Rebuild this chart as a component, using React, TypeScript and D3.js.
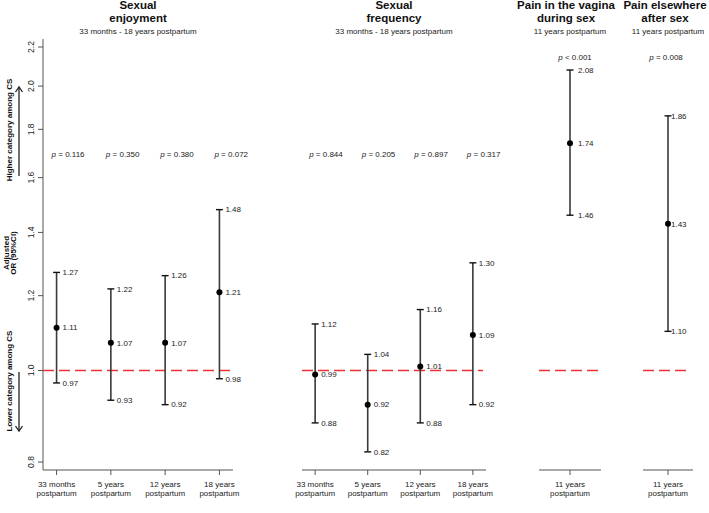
import * as d3 from "d3";
import React from "react";

const WIDTH = 709;
const HEIGHT = 513;

// x categories
const timepoints = [
  ["33 months", "postpartum"],
  ["5 years", "postpartum"],
  ["12 years", "postpartum"],
  ["18 years", "postpartum"],
];
const painTimepoint = [["11 years", "postpartum"]];

// sexual enjoyment
const enjoymentEst = [1.11, 1.07, 1.07, 1.21];
const enjoymentLow = [0.97, 0.93, 0.92, 0.98];
const enjoymentHigh = [1.27, 1.22, 1.26, 1.48];
const enjoymentP = ["= 0.116", "= 0.350", "= 0.380", "= 0.072"];

// sexual frequency
const frequencyEst = [0.99, 0.92, 1.01, 1.09];
const frequencyLow = [0.88, 0.82, 0.88, 0.92];
const frequencyHigh = [1.12, 1.04, 1.16, 1.3];
const frequencyP = ["= 0.844", "= 0.205", "= 0.897", "= 0.317"];

// pain in the vagina during sex
const vaginaEst = [1.74];
const vaginaLow = [1.46];
const vaginaHigh = [2.08];
const vaginaP = ["< 0.001"];

// pain elsewhere after sex
const elsewhereEst = [1.43];
const elsewhereLow = [1.1];
const elsewhereHigh = [1.86];
const elsewhereP = ["= 0.008"];

const yTicks = [0.8, 1.0, 1.2, 1.4, 1.6, 1.8, 2.0, 2.2];

const FONT = "'Liberation Sans', Arial, Helvetica, sans-serif";
const BAR = "#3a3a3a";
const AXIS = "#555";
const RED = "#ee3030";

const y = d3.scaleLog().domain([0.8, 2.2]).range([462, 47]);
const AXIS_Y = 470;
const fmt = d3.format(".2f");

const panels = [
  {
    title: ["Sexual", "enjoyment"],
    sub: "33 months - 18 years postpartum",
    cats: timepoints,
    est: enjoymentEst,
    lo: enjoymentLow,
    hi: enjoymentHigh,
    p: enjoymentP,
    x0: 43,
    x1: 233,
    pY: 157,
    pDx: -5,
    pAnchor: "start",
    labDx: 6,
    titleX: 0,
  },
  {
    title: ["Sexual", "frequency"],
    sub: "33 months - 18 years postpartum",
    cats: timepoints,
    est: frequencyEst,
    lo: frequencyLow,
    hi: frequencyHigh,
    p: frequencyP,
    x0: 302,
    x1: 486,
    pY: 157,
    pDx: -6,
    pAnchor: "start",
    labDx: 6,
    titleX: 0,
  },
  {
    title: ["Pain in the vagina", "during sex"],
    sub: "11 years postpartum",
    cats: painTimepoint,
    est: vaginaEst,
    lo: vaginaLow,
    hi: vaginaHigh,
    p: vaginaP,
    x0: 539,
    x1: 601,
    pY: 60,
    pDx: 5,
    pAnchor: "middle",
    labDx: 8,
    titleX: -4,
  },
  {
    title: ["Pain elsewhere", "after sex"],
    sub: "11 years postpartum",
    cats: painTimepoint,
    est: elsewhereEst,
    lo: elsewhereLow,
    hi: elsewhereHigh,
    p: elsewhereP,
    x0: 643,
    x1: 693,
    pY: 60,
    pDx: -2,
    pAnchor: "middle",
    labDx: 3,
    titleX: -3,
  },
];

function Panel({ cfg }: { cfg: any }) {
  const keys = cfg.cats.map((c: string[]) => c.join(" "));
  const x = d3.scalePoint().domain(keys).range([cfg.x0, cfg.x1]).padding(0.25);
  const cx = (cfg.x0 + cfg.x1) / 2;

  return (
    <g>
      {/* two-line bold title */}
      <text x={cx + cfg.titleX} y={9} textAnchor="middle" fontWeight="bold" fontSize={11.5} fill="#111">
        {cfg.title[0]}
      </text>
      <text x={cx + cfg.titleX} y={22.3} textAnchor="middle" fontWeight="bold" fontSize={11.5} fill="#111">
        {cfg.title[1]}
      </text>
      <text x={cx} y={34} textAnchor="middle" fontSize={8} fill="#222">
        {cfg.sub}
      </text>

      {/* reference line at OR = 1 */}
      <line
        x1={cfg.x0}
        x2={cfg.x1 - 3}
        y1={y(1)}
        y2={y(1)}
        stroke={RED}
        strokeWidth={1.5}
        strokeDasharray="11 5"
      />

      {/* x axis */}
      <line x1={cfg.x0} x2={cfg.x1} y1={AXIS_Y} y2={AXIS_Y} stroke={AXIS} strokeWidth={1} />
      {cfg.cats.map((c: string[], i: number) => {
        const px = x(keys[i]) as number;
        return (
          <g key={keys[i]}>
            <line x1={px} x2={px} y1={AXIS_Y} y2={AXIS_Y + 5} stroke={AXIS} />
            <text x={px} y={487} textAnchor="middle" fontSize={8} fill="#222">
              <tspan x={px}>{c[0]}</tspan>
              <tspan x={px} dy={8.5}>
                {c[1]}
              </tspan>
            </text>
          </g>
        );
      })}

      {/* estimates with CI */}
      {cfg.est.map((e: number, i: number) => {
        const px = x(keys[i]) as number;
        const lo = cfg.lo[i];
        const hi = cfg.hi[i];
        const lx = px + cfg.labDx;
        return (
          <g key={"e" + i}>
            <text x={px + cfg.pDx} y={cfg.pY} textAnchor={cfg.pAnchor} fontSize={8} fill="#222">
              <tspan fontStyle="italic">p</tspan> {cfg.p[i]}
            </text>
            <line x1={px} x2={px} y1={y(lo)} y2={y(hi)} stroke={BAR} strokeWidth={1.6} />
            <line x1={px - 3.5} x2={px + 3.5} y1={y(hi)} y2={y(hi)} stroke="#111" strokeWidth={1.4} />
            <line x1={px - 3.5} x2={px + 3.5} y1={y(lo)} y2={y(lo)} stroke="#111" strokeWidth={1.4} />
            <circle cx={px} cy={y(e)} r={3} fill="#000" />
            <text x={lx} y={y(hi)} dy="0.35em" fontSize={8} fill="#222">
              {fmt(hi)}
            </text>
            <text x={lx} y={y(e)} dy="0.35em" fontSize={8} fill="#222">
              {fmt(e)}
            </text>
            <text x={lx} y={y(lo)} dy="0.35em" fontSize={8} fill="#222">
              {fmt(lo)}
            </text>
          </g>
        );
      })}
    </g>
  );
}

function Arrow({ x, from, to }: { x: number; from: number; to: number }) {
  const dir = to < from ? 1 : -1;
  return (
    <g stroke="#222" strokeWidth={1.3} fill="none">
      <line x1={x} x2={x} y1={from} y2={to} />
      <polyline points={`${x - 3.5},${to + dir * 5} ${x},${to} ${x + 3.5},${to + dir * 5}`} />
    </g>
  );
}

export default function App() {
  return (
    <svg
      width={WIDTH}
      height={HEIGHT}
      style={{ position: "absolute", left: 0, top: 0, background: "#fff" }}
      fontFamily={FONT}
    >
      <rect width={WIDTH} height={HEIGHT} fill="#fff" />

      {/* y axis */}
      <line x1={43} x2={43} y1={39} y2={AXIS_Y} stroke={AXIS} strokeWidth={1} />
      {yTicks.map((t) => (
        <g key={t}>
          <line x1={38} x2={43} y1={y(t)} y2={y(t)} stroke={AXIS} />
          <text
            transform={`translate(33.5,${y(t)}) rotate(-90)`}
            textAnchor="middle"
            fontSize={8.5}
            fill="#222"
          >
            {d3.format(".1f")(t)}
          </text>
        </g>
      ))}

      {/* y axis labels */}
      <text
        transform="translate(11.5,130) rotate(-90)"
        textAnchor="middle"
        fontWeight="bold"
        fontSize={8}
        fill="#111"
      >
        Higher category among CS
      </text>
      <Arrow x={19} from={176} to={87} />
      <text
        transform="translate(8.5,253) rotate(-90)"
        textAnchor="middle"
        fontWeight="bold"
        fontSize={8}
        fill="#111"
      >
        <tspan x={0}>Adjusted</tspan>
        <tspan x={0} dy={7}>
          OR (95%CI)
        </tspan>
      </text>
      <text
        transform="translate(11.5,381) rotate(-90)"
        textAnchor="middle"
        fontWeight="bold"
        fontSize={8}
        fill="#111"
      >
        Lower category among CS
      </text>
      <Arrow x={19} from={372} to={431} />

      {panels.map((p, i) => (
        <Panel key={i} cfg={p} />
      ))}
    </svg>
  );
}
